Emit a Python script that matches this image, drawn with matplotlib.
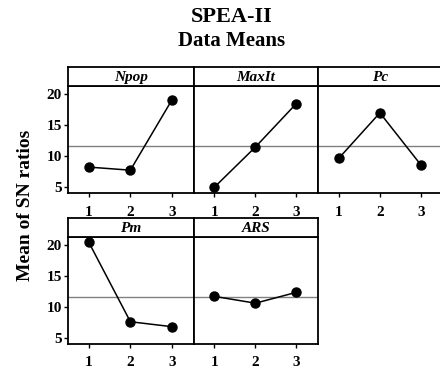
import numpy as np
import matplotlib.pyplot as plt

plt.rcParams['font.family'] = ['Liberation Serif', 'DejaVu Serif']
plt.rcParams['font.weight'] = 'bold'

# Main effects of each factor level on the SN ratio
factors = ["Npop", "MaxIt", "Pc", "Pm", "ARS"]
levels = [1, 2, 3]
npop = [8.2, 7.7, 19.1]
maxit = [4.95, 11.45, 18.5]
pc = [9.6, 17.0, 8.5]
pm = [20.45, 7.6, 6.8]
ars = [11.7, 10.6, 12.35]
series = [npop, maxit, pc, pm, ars]
yticks = [5, 10, 15, 20]

grand_mean = np.mean(np.concatenate(series))

W, H = 440, 370
fig = plt.figure(figsize=(W / 100, H / 100), dpi=100)

# panel boxes in pixels: (left, right) and (strip top, strip bottom, bottom)
cols = [(68, 194), (194, 318), (318, 443)]
rows = [(67, 86, 193), (218.3, 236.7, 344)]

for i, (name, vals) in enumerate(zip(factors, series)):
    r, c = divmod(i, 3)
    x0, x1 = cols[c]
    top, sb, bot = rows[r]
    ax = fig.add_axes([x0 / W, 1 - bot / H, (x1 - x0) / W, (bot - sb) / H])
    st = fig.add_axes([x0 / W, 1 - sb / H, (x1 - x0) / W, (sb - top) / H])

    ax.axhline(grand_mean, color="#808080", lw=1.0, zorder=1)
    ax.plot(levels, vals, color="black", lw=1.1, marker="o", ms=6.5, zorder=3)
    ax.set_xlim(0.5, 3.53)
    ax.set_ylim(4.0, 21.35)
    ax.set_xticks(levels)
    ax.set_xticklabels([str(v) for v in levels], fontsize=11, fontweight="bold")
    ax.tick_params(axis="x", direction="out", length=3, pad=6, width=1)
    if c == 0:
        ax.set_yticks(yticks)
        ax.set_yticklabels([str(v) for v in yticks], fontsize=11, fontweight="bold")
        ax.tick_params(axis="y", direction="out", length=3, pad=1.5, width=1)
    else:
        ax.set_yticks([])
    for s in ax.spines.values():
        s.set_linewidth(1.3)

    st.set_xticks([])
    st.set_yticks([])
    for s in st.spines.values():
        s.set_linewidth(1.3)
    st.text(0.5, 0.45, name, transform=st.transAxes, ha="center", va="center",
            fontsize=11, fontweight="bold", fontstyle="italic")

fig.text(232 / W, 1 - 17 / H, "SPEA-II", ha="center", va="center",
         fontsize=16, fontweight="bold")
fig.text(232 / W, 1 - 41 / H, "Data Means", ha="center", va="center",
         fontsize=15, fontweight="bold")
fig.text(25 / W, 1 - 205 / H, "Mean of SN ratios", ha="center", va="center",
         rotation=90, fontsize=14, fontweight="bold")

fig.savefig("out.png", dpi=100)
